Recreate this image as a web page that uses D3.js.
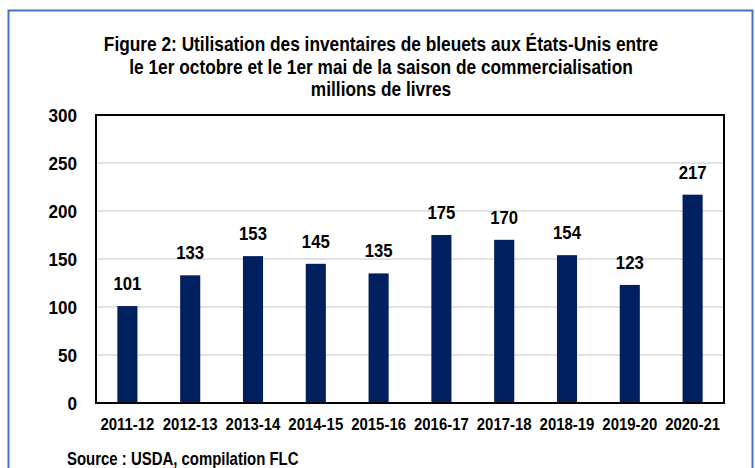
<!DOCTYPE html>
<html>
<head>
<meta charset="utf-8">
<script src="https://cdn.jsdelivr.net/npm/d3@7"></script>
<style>
  body { margin: 0; background: #ffffff; }
  svg text { font-family: "Liberation Sans Narrow", "Arial Narrow", "Liberation Sans", Arial, sans-serif; font-weight: bold; fill: #000000; }
</style>
</head>
<body>
<svg id="chart" width="755" height="468"></svg>
<script>
// Saisons de commercialisation
var seasons = ["2011-12", "2012-13", "2013-14", "2014-15", "2015-16", "2016-17", "2017-18", "2018-19", "2019-20", "2020-21"];
// millions de livres
var usage = [101, 133, 153, 145, 135, 175, 170, 154, 123, 217];
var y_ticks = [0, 50, 100, 150, 200, 250, 300];
var title_lines = [
	"Figure 2: Utilisation des inventaires de bleuets aux États-Unis entre",
	"le 1er octobre et le 1er mai de la saison de commercialisation",
	"millions de livres"
];
var source_text = "Source : USDA, compilation FLC";

var svg = d3.select("#chart");

var plot = {"left": 96, "top": 115, "right": 724, "bottom": 403};

// The original uses a condensed face; squeeze the regular one horizontally.
function place(x, y, sx)
{
	return "translate(" + x + "," + y + ") scale(" + sx + ",1)";
}

// outer frame (bottom edge is cut off in the original)
svg.append("path")
	.attr("d", "M8.5,480 V10.5 H752.5 V480")
	.attr("fill", "none")
	.attr("stroke", "#4472c4")
	.attr("stroke-width", 2);

var x = d3.scaleBand()
	.domain(seasons)
	.range([plot.left, plot.right])
	.paddingInner(0.68)
	.paddingOuter(0.34);

var y = d3.scaleLinear()
	.domain([0, 300])
	.range([plot.bottom, plot.top]);

// gridlines
svg.append("g")
	.selectAll("line")
	.data(y_ticks.slice(1, -1))
	.join("line")
	.attr("x1", plot.left)
	.attr("x2", plot.right)
	.attr("y1", function(d) { return y(d); })
	.attr("y2", function(d) { return y(d); })
	.attr("stroke", "#d9d9d9")
	.attr("stroke-width", 1.5);

// bars
svg.append("g")
	.selectAll("rect")
	.data(usage)
	.join("rect")
	.attr("x", function(d, i) { return x(seasons[i]); })
	.attr("y", function(d) { return y(d); })
	.attr("width", x.bandwidth())
	.attr("height", function(d) { return y(0) - y(d); })
	.attr("fill", "#002060");

// value labels
svg.append("g")
	.selectAll("text")
	.data(usage)
	.join("text")
	.attr("transform", function(d, i) { return place(x(seasons[i]) + x.bandwidth() / 2, y(d) - 16, 0.88); })
	.attr("text-anchor", "middle")
	.style("font-size", "19px")
	.text(function(d) { return d; });

// plot frame
svg.append("rect")
	.attr("x", plot.left)
	.attr("y", plot.top)
	.attr("width", plot.right - plot.left)
	.attr("height", plot.bottom - plot.top)
	.attr("fill", "none")
	.attr("stroke", "#000000")
	.attr("stroke-width", 2);

// y axis
var y_axis = svg.append("g")
	.attr("transform", "translate(" + (plot.left - 19) + ",0)")
	.call(d3.axisLeft(y).tickValues(y_ticks).tickSize(0).tickPadding(0));
y_axis.select(".domain").remove();
y_axis.selectAll("text")
	.style("font-size", "18px")
	.attr("dy", "0.36em")
	.attr("transform", "scale(0.95,1)");

// x axis
var x_axis = svg.append("g")
	.attr("transform", "translate(0," + plot.bottom + ")")
	.call(d3.axisBottom(x).tickSize(0).tickPadding(15));
x_axis.select(".domain").remove();
x_axis.selectAll("text")
	.style("font-size", "17px")
	.attr("transform", "scale(0.88,1)");

// title
svg.append("g")
	.selectAll("text")
	.data(title_lines)
	.join("text")
	.attr("transform", function(d, i) { return place(381, 51 + i * 22.5, 0.865); })
	.attr("text-anchor", "middle")
	.style("font-size", "20px")
	.text(function(d) { return d; });

svg.append("text")
	.attr("transform", place(67, 465, 0.83))
	.style("font-size", "18px")
	.text(source_text);
</script>
</body>
</html>
